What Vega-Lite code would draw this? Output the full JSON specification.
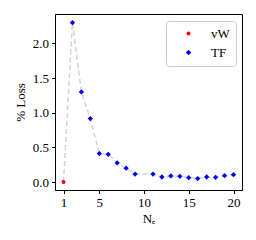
{
  "$schema": "https://vega.github.io/schema/vega-lite/v6.json",
  "autosize": "none",
  "width": 187,
  "height": 176,
  "padding": {"left": 55, "top": 14, "right": 14, "bottom": 50},
  "background": "white",
  "config": {
    "view": {"stroke": "black", "strokeWidth": 1},
    "font": "Liberation Serif",
    "axis": {
      "grid": false,
      "domainColor": "black",
      "tickColor": "black",
      "tickSize": 3.5,
      "labelColor": "black",
      "titleColor": "black",
      "labelFont": "Liberation Serif",
      "titleFont": "Liberation Serif",
      "labelFontSize": 13,
      "titleFontSize": 13,
      "titleFontWeight": "normal",
      "labelPadding": 3
    },
    "legend": {
      "labelFont": "Liberation Serif",
      "labelFontSize": 13,
      "labelColor": "black"
    }
  },
  "data": {
    "values": [
      {"n": 1, "loss": 0.0, "method": "vW"},
      {"n": 2, "loss": 2.30, "method": "TF"},
      {"n": 3, "loss": 1.30, "method": "TF"},
      {"n": 4, "loss": 0.915, "method": "TF"},
      {"n": 5, "loss": 0.41, "method": "TF"},
      {"n": 6, "loss": 0.40, "method": "TF"},
      {"n": 7, "loss": 0.275, "method": "TF"},
      {"n": 8, "loss": 0.20, "method": "TF"},
      {"n": 9, "loss": 0.115, "method": "TF"},
      {"n": 11, "loss": 0.115, "method": "TF"},
      {"n": 12, "loss": 0.072, "method": "TF"},
      {"n": 13, "loss": 0.087, "method": "TF"},
      {"n": 14, "loss": 0.082, "method": "TF"},
      {"n": 15, "loss": 0.063, "method": "TF"},
      {"n": 16, "loss": 0.05, "method": "TF"},
      {"n": 17, "loss": 0.072, "method": "TF"},
      {"n": 18, "loss": 0.067, "method": "TF"},
      {"n": 19, "loss": 0.092, "method": "TF"},
      {"n": 20, "loss": 0.106, "method": "TF"}
    ]
  },
  "encoding": {
    "x": {
      "field": "n", "type": "quantitative",
      "scale": {"domain": [0.05, 20.95], "nice": false, "zero": false},
      "axis": {"values": [1, 5, 10, 15, 20], "title": "Nₑ", "titlePadding": 3}
    },
    "y": {
      "field": "loss", "type": "quantitative",
      "scale": {"domain": [-0.1155, 2.4255], "nice": false, "zero": false},
      "axis": {"values": [0, 0.5, 1, 1.5, 2], "format": ".1f", "title": "% Loss", "titlePadding": 5}
    }
  },
  "layer": [
    {
      "mark": {"type": "line", "color": "#d3d3d3", "strokeDash": [5, 3], "strokeWidth": 1.5},
      "encoding": {"order": {"field": "n"}}
    },
    {
      "mark": {"type": "point", "filled": true, "opacity": 1},
      "encoding": {
        "color": {
          "field": "method", "type": "nominal",
          "scale": {"domain": ["vW", "TF"], "range": ["#ff0000", "#0000ff"]},
          "legend": {
            "title": null, "orient": "none", "legendX": 111, "legendY": 7,
            "padding": 6, "rowPadding": 5, "symbolOffset": 10, "labelOffset": 16,
            "strokeColor": "#cccccc", "fillColor": "white", "cornerRadius": 3
          }
        },
        "shape": {
          "field": "method", "type": "nominal",
          "scale": {"domain": ["vW", "TF"], "range": ["circle", "diamond"]}
        },
        "size": {
          "field": "method", "type": "nominal",
          "scale": {"domain": ["vW", "TF"], "range": [16, 28]}
        }
      }
    }
  ]
}
